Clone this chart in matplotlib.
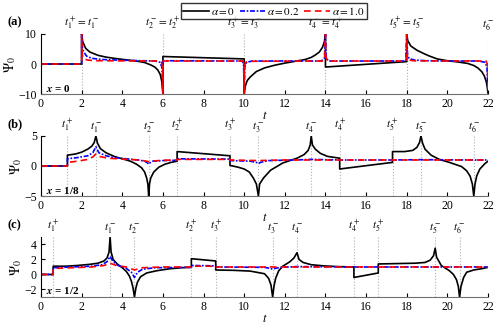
import matplotlib
matplotlib.use("Agg")
import matplotlib.pyplot as plt

plt.rcParams["font.family"] = "serif"
plt.rcParams["font.serif"] = ["Liberation Serif", "DejaVu Serif"]
plt.rcParams["mathtext.fontset"] = "stix"

# --- data (t, Psi_0) ---
a_black = [(0, 0), (2, 0), (2, 10), (2.05, 7.5), (2.2, 5.2), (2.4, 4.0), (2.8, 2.9),
           (3.2, 2.3), (3.7, 1.8), (4.2, 1.4), (4.7, 1.0), (5.1, 0.5), (5.4, -0.3),
           (5.6, -1.0), (5.75, -2.0), (5.87, -3.5), (5.95, -6.0), (6, -10),
           (6, 2.5), (10, 1.7), (10, -10), (10.05, -7.5), (10.15, -5.5), (10.3, -4.3),
           (10.6, -2.5), (11, -1.3), (11.5, -0.4), (12, 0.3), (12.5, 0.9), (13, 1.5),
           (13.3, 2.2), (13.5, 3.0), (13.7, 4.0), (13.85, 5.5), (13.95, 7.5), (14, 10),
           (14, -1.0), (18, 0.8), (18, 10), (18.05, 7.8), (18.2, 6.0), (18.5, 4.6),
           (18.8, 3.6), (19.1, 2.7), (19.5, 1.7), (20, 1.1), (20.5, 0.7), (21, 0.2),
           (21.3, -0.5), (21.5, -1.3), (21.7, -2.6), (21.82, -4.0), (21.92, -6.0),
           (21.97, -8.0), (22, -10)]
a_blue = [(0, 0), (2, 0), (2, 10), (2.04, 5.5), (2.1, 4.0), (2.25, 2.6), (2.5, 1.9),
          (3, 1.5), (4, 1.25), (5, 1.1), (5.6, 1.0), (5.85, 0.6), (5.95, -1.0), (6, -10),
          (6, 1.1), (9.9, 1.0), (9.97, 0), (10, -10), (10.03, -1.0), (10.12, 0.6),
          (10.4, 1.0), (13.8, 1.0), (13.95, 2.0), (14, 10), (14.04, 2.0), (14.15, 1.0),
          (17.95, 1.0), (18, 10), (18.04, 3.0), (18.12, 1.8), (18.4, 1.3), (19, 1.1),
          (20, 1.0), (21.5, 1.0), (21.85, 0.6), (21.95, -1.0), (22, -10)]
a_red = [(0, 0), (2, 0), (2, 10), (2.03, 3.0), (2.1, 1.8), (2.3, 1.3), (2.7, 1.1),
         (5.8, 1.0), (5.93, 0.6), (5.98, -1.0), (6, -10), (6, 1.0), (9.95, 1.0),
         (9.99, -1.0), (10, -10), (10.01, -1.0), (10.06, 0.5), (10.2, 0.9), (13.9, 1.0),
         (13.97, 2.5), (14, 10), (14.02, 2.5), (14.08, 1.0), (17.97, 1.0), (18, 10),
         (18.03, 2.5), (18.1, 1.3), (18.4, 1.05), (21.9, 1.0), (21.97, 0), (22, -10)]

b_black = [(0, 0), (1.3, 0), (1.3, 1.8), (1.7, 2.0), (2.0, 2.3), (2.3, 2.8), (2.5, 3.3),
           (2.62, 3.9), (2.7, 5), (2.78, 3.8), (2.92, 2.9), (3.2, 2.2), (3.6, 1.6),
           (4.0, 1.2), (4.4, 0.8), (4.7, 0.3), (4.95, -0.3), (5.1, -1.0), (5.2, -2.0),
           (5.26, -3.0), (5.3, -5), (5.34, -3.0), (5.4, -2.0), (5.55, -1.0), (5.8, -0.2),
           (6.1, 0.3), (6.4, 0.6), (6.7, 0.8), (6.7, 2.4), (9.3, 1.7), (9.3, 0.1),
           (9.7, -0.2), (10.0, -0.5), (10.25, -1.0), (10.45, -2.0), (10.6, -3.0),
           (10.7, -5), (10.76, -3.0), (10.95, -2.0), (11.3, -0.7), (11.9, 0.5),
           (12.6, 1.3), (12.95, 1.9), (13.15, 2.6), (13.25, 3.5), (13.3, 5), (13.36, 3.5),
           (13.5, 2.8), (13.75, 2.1), (14.1, 1.6), (14.7, 1.3), (14.7, -0.5), (17.3, 0.6),
           (17.3, 2.4), (17.9, 2.4), (18.3, 2.6), (18.5, 3.1), (18.63, 3.9), (18.7, 5),
           (18.78, 3.8), (18.9, 2.8), (19.2, 1.8), (19.6, 1.1), (20.1, 0.6), (20.7, -0.1),
           (20.95, -0.8), (21.12, -1.7), (21.23, -3.0), (21.3, -5), (21.36, -3.0),
           (21.45, -1.6), (21.6, -0.5), (21.85, 0.4), (22, 0.8)]
b_blue = [(0, 0), (1.3, 0), (1.3, 1.2), (1.8, 1.4), (2.3, 1.7), (2.55, 2.2), (2.7, 3.2),
          (2.85, 2.2), (3.2, 1.7), (3.6, 1.4), (4.2, 1.2), (4.8, 1.0), (5.1, 0.8),
          (5.25, 0.5), (5.3, 0.3), (5.35, 0.5), (5.5, 0.8), (6.0, 0.9), (6.7, 0.95),
          (6.7, 1.2), (9.3, 1.15), (9.3, 0.9), (10.3, 0.8), (10.6, 0.6), (10.7, 0.4),
          (10.8, 0.6), (11.2, 0.9), (12.5, 1.0), (13.3, 1.1), (14.7, 1.0), (17.3, 1.0),
          (18.7, 1.05), (21.3, 1.0), (22, 1.0)]
b_red = [(0, 0), (1.3, 0), (1.3, 0.6), (1.8, 0.8), (2.3, 1.1), (2.55, 1.5), (2.7, 2.0),
         (2.85, 1.6), (3.3, 1.3), (4, 1.15), (4.8, 1.0), (5.2, 0.8), (5.3, 0.7),
         (5.4, 0.8), (6, 0.95), (6.7, 1.0), (6.7, 1.1), (9.3, 1.1), (9.3, 1.0),
         (10.7, 0.9), (12, 1.0), (22, 1.0)]

c_black = [(0, 0), (0.6, 0), (0.6, 1.1), (1.2, 1.1), (1.8, 1.2), (2.4, 1.35), (2.8, 1.5),
           (3.1, 1.8), (3.25, 2.2), (3.35, 3.0), (3.4, 5), (3.45, 3.0), (3.55, 2.0),
           (3.75, 1.4), (4.0, 0.9), (4.2, 0.4), (4.35, -0.2), (4.45, -0.9), (4.53, -1.8),
           (4.6, -3), (4.67, -1.8), (4.75, -1.0), (4.9, -0.3), (5.2, 0.2), (5.7, 0.5),
           (6.3, 0.75), (6.9, 0.9), (7.4, 0.95), (7.4, 2.1), (8.6, 1.8), (8.6, 0.6),
           (9.5, 0.55), (10.3, 0.45), (11.0, 0.1), (11.2, -0.5), (11.32, -1.4), (11.4, -3),
           (11.47, -1.5), (11.55, -0.5), (11.7, 0.5), (11.9, 1.1), (12.25, 1.7),
           (12.45, 2.2), (12.6, 2.9), (12.7, 2.0), (12.9, 1.6), (13.3, 1.3), (13.9, 1.15),
           (14.6, 1.05), (15.4, 1.0), (15.4, -0.4), (16.6, 0.2), (16.6, 1.4), (17.5, 1.45),
           (18.4, 1.5), (18.9, 1.6), (19.15, 1.9), (19.32, 2.5), (19.4, 3.5), (19.47, 2.3),
           (19.7, 1.2), (20.1, 0.5), (20.3, 0.0), (20.45, -0.7), (20.54, -1.6), (20.6, -3),
           (20.67, -1.6), (20.8, -0.4), (20.95, 0.3), (21.3, 0.6), (21.75, 0.8), (22, 0.95)]
c_blue = [(0, 0), (0.6, 0), (0.6, 0.9), (1.5, 1.0), (2.5, 1.1), (3.0, 1.3), (3.25, 1.7),
          (3.4, 2.4), (3.55, 1.7), (3.8, 1.2), (4.2, 0.8), (4.45, 0.3), (4.6, -0.4),
          (4.75, 0.3), (5.0, 0.7), (5.6, 0.9), (7.4, 0.95), (7.4, 1.2), (8.6, 1.15),
          (8.6, 1.0), (11.0, 0.95), (11.3, 0.8), (11.4, 0.7), (11.5, 0.8), (11.8, 0.95),
          (12.6, 1.05), (15.4, 1.0), (22, 1.0)]
c_red = [(0, 0), (0.6, 0), (0.6, 0.8), (1.5, 0.9), (2.5, 1.0), (3.1, 1.2), (3.4, 1.5),
         (3.7, 1.2), (4.2, 1.0), (4.6, 0.6), (5.0, 0.9), (6, 1.0), (7.4, 1.0), (7.4, 1.1),
         (8.6, 1.1), (8.6, 1.0), (22, 1.0)]

# event times and their labels
a_times = [2, 6, 10, 14, 18, 22]
a_labels = [r"$t_1^+ = t_1^-$", r"$t_2^- = t_2^+$", r"$t_3^+ = t_3^-$",
            r"$t_4^- = t_4^+$", r"$t_5^+ = t_5^-$", r"$t_6^-$"]
b_times = [1.3, 2.7, 5.3, 6.7, 9.3, 10.7, 13.3, 14.7, 17.3, 18.7, 21.3]
c_times = [0.6, 3.4, 4.6, 7.4, 8.6, 11.4, 12.6, 15.4, 16.6, 19.4, 20.6]
bc_labels = [r"$t_1^+$", r"$t_1^-$", r"$t_2^-$", r"$t_2^+$", r"$t_3^+$", r"$t_3^-$",
             r"$t_4^-$", r"$t_4^+$", r"$t_5^+$", r"$t_5^-$", r"$t_6^-$"]

alphas = ["0", "0.2", "1.0"]
styles = [dict(color="black", ls="-", lw=1.2),
          dict(color="#0000ff", ls=(0, (3, 1, 1, 1)), lw=1.2),
          dict(color="#ff0000", ls=(0, (4, 2.5)), lw=1.2)]

panels = [
    ("(a)", r"$\mathbfit{x}$ = 0", [a_black, a_blue, a_red], a_times, a_labels,
     (-10, 10), [-10, 0, 10], [0.082, 0.715, 0.894, 0.182]),
    ("(b)", r"$\mathbfit{x}$ = 1/8", [b_black, b_blue, b_red], b_times, bc_labels,
     (-5, 5), [-5, 0, 5], [0.082, 0.406, 0.894, 0.182]),
    ("(c)", r"$\mathbfit{x}$ = 1/2", [c_black, c_blue, c_red], c_times, bc_labels,
     (-3, 5), [-2, 0, 2, 4], [0.082, 0.100, 0.894, 0.182]),
]

fig = plt.figure(figsize=(5, 3.3), dpi=100)
handles = []
for tag, xtxt, curves, times, labels, ylim, yticks, rect in panels:
    ax = fig.add_axes(rect)
    for t in times:
        ax.axvline(t, color="#b0b0b0", ls=":", lw=0.8, zorder=0)
    hs = []
    for pts, st, a in zip(curves, styles, alphas):
        tt = [p[0] for p in pts]
        yy = [p[1] for p in pts]
        h, = ax.plot(tt, yy, label=rf"$\alpha = {a}$", **st)
        hs.append(h)
    if not handles:
        handles = hs
    ax.set_xlim(0, 22)
    ax.set_ylim(*ylim)
    ax.set_xticks(range(0, 23, 2))
    ax.set_yticks(yticks)
    ax.tick_params(direction="in", labelsize=8.5, length=3, pad=3)
    for s in ("top", "right"):
        ax.spines[s].set_visible(False)
    ax.spines["bottom"].set_color("#707070")
    ax.set_xlabel(r"$t$", fontsize=9, labelpad=0)
    ax.set_ylabel(r"$\Psi_0$", fontsize=10, labelpad=0)
    for t, lab in zip(times, labels):
        ax.text(t, 1.03, lab, transform=ax.get_xaxis_transform(), ha="center",
                va="bottom", fontsize=8)
    ax.text(0.012, 0.1, xtxt, transform=ax.transAxes, fontsize=8,
            fontweight="bold", ha="left", va="center")
    pos = ax.get_position()
    fig.text(0.014, pos.y1 + 0.035, tag, fontsize=9, fontweight="bold",
             ha="left", va="center")

fig.legend(handles=handles, loc="center", bbox_to_anchor=(0.548, 0.966), ncol=3,
           fontsize=8, frameon=True, fancybox=False, edgecolor="black",
           handlelength=2.3, handletextpad=0.2, columnspacing=0.4,
           borderpad=0.2, borderaxespad=0)

fig.savefig("out.png", dpi=100)
